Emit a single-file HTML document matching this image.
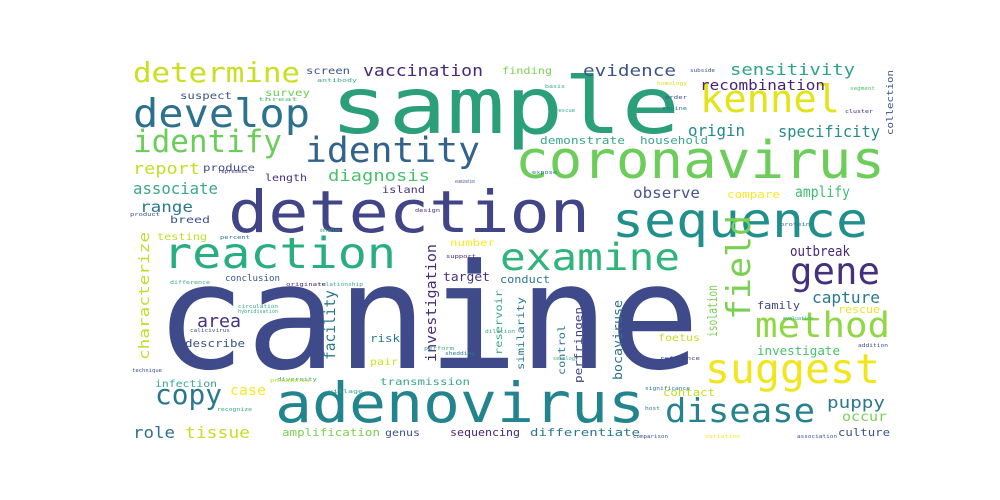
<!DOCTYPE html>
<html><head><meta charset="utf-8"><style>
html,body{margin:0;padding:0;background:#fff;width:1000px;height:500px;overflow:hidden}
svg text{font-family:"DejaVu Sans Mono","Liberation Mono",monospace}
</style></head><body>
<svg width="1000" height="500" viewBox="0 0 1000 500" id="wc"></svg>
<script>
// word, x-start, baseline, font-size, width, color, rotated(1)
const words=["canine","sample","detection","adenovirus","coronavirus","sequence","reaction","examine","develop","identity","identify","determine","kennel","gene","field","method","suggest","disease","copy","vaccination","evidence","sensitivity","recombination","specificity","origin","demonstrate","household","observe","amplify","compare","outbreak","capture","family","rescue","investigate","puppy","occur","culture","isolation","bocaviruse","perfringen","control","similarity","reservoir","contact","foetus","differentiate","sequencing","genus","amplification","role","tissue","case","infection","transmission","describe","area","pair","risk","facility","investigation","characterize","target","conclusion","diagnosis","associate","report","produce","length","island","range","breed","testing","number","suspect","screen","survey","finding","conduct","collection","segment","cluster","homology","subside","order","basis","rescue","equine","significance","reference","host","comparison","variation","association","serology","shedding","dilution","perform","hybridisation","circulation","calicivirus","difference","technique","recognize","diversity","pneumonia","relationship","originate","support","village","design","deletion","percent","represent","product","expose","examination","antibody","threat","protein","evaluation","addition"];
const layout=[
[155,368,146,545,"#3e4a89",0],[330,133,78,350,"#2a9f7a",0],[228,232,58,362,"#414487",0],[275,422,55,370,"#22848d",0],
[515,178,52,370,"#6ccd5a",0],[612,237,48,256,"#21908d",0],[163,268,43,233,"#29af7f",0],[500,270,37,180,"#2fb47c",0],
[133,127,39,177,"#2c728e",0],[305,162,35,175,"#33638d",0],[133,152,31,149,"#6ccd5a",0],[133,82,28,167,"#c8e020",0],
[700,112,38,140,"#e2e418",0],[790,284,37,90,"#46307e",0],[750,320,33,105,"#7ad151",1],[755,337,35,135,"#8fd744",0],
[705,383,41,175,"#f1e51d",0],[665,422,33,150,"#26828e",0],[155,404,28,67,"#2a788e",0],[363,76,16,120,"#482878",0],
[583,76,16,93,"#3b528b",0],[730,75,16,125,"#2ea28a",0],[700,90,14,125,"#482475",0],[778,137,16,102,"#2a8a8c",0],
[688,136,16,57,"#23898e",0],[540,144,11,85,"#3aa78a",0],[640,144,11,68,"#3aa78a",0],[633,198,15,67,"#46548d",0],
[795,197,15,55,"#3fbc73",0],[727,198,11,53,"#fde725",0],[790,256,14,60,"#482878",0],[812,303,16,68,"#2a788e",0],
[757,309,11,43,"#414487",0],[838,313,11,42,"#f3e51e",0],[757,355,12,83,"#4ac16d",0],[827,408,16,58,"#2a788e",0],
[842,421,13,45,"#7ad151",0],[838,436,11,52,"#3b528b",0],[717,337,13,52,"#7ad151",1],[622,380,12,80,"#2c728e",1],
[582,383,11,76,"#414487",1],[565,375,10,50,"#2a788e",1],[524,370,10,73,"#2a788e",1],[502,355,10,65,"#3aa78a",1],
[663,396,11,52,"#bddf26",0],[658,341,10,42,"#bddf26",0],[530,436,11,110,"#2a788e",0],[450,436,11,70,"#482878",0],
[385,436,10,35,"#3b528b",0],[282,436,11,98,"#7ad151",0],[133,438,16,42,"#2c728e",0],[185,438,16,65,"#c2df23",0],
[230,395,14,36,"#fde725",0],[155,387,10,62,"#3aa78a",0],[380,385,10,90,"#3aa78a",0],[185,347,11,60,"#3b528b",0],
[197,327,18,44,"#46337e",0],[370,365,10,28,"#d2e21b",0],[370,342,11,30,"#2a788e",0],[335,360,15,70,"#2a788e",1],
[436,362,14,118,"#472c7a",1],[149,360,14,128,"#bddf26",1],[443,281,12,47,"#46337e",0],[225,281,9,55,"#3b528b",0],
[328,181,16,102,"#4ac16d",0],[133,194,16,85,"#3aa78a",0],[133,174,16,67,"#c2df23",0],[203,171,10,52,"#3b528b",0],
[265,181,10,42,"#46337e",0],[382,193,10,43,"#46337e",0],[140,212,15,53,"#2a788e",0],[170,223,10,40,"#3b528b",0],
[157,240,10,50,"#bddf26",0],[450,246,10,45,"#fde725",0],[180,99,10,52,"#3b528b",0],[306,74,10,44,"#3b528b",0],
[265,96,10,45,"#6ccd5a",0],[502,74,10,50,"#7ad151",0],[500,283,11,50,"#2a788e",0],[893,135,9,65,"#3b528b",1],
[850,90,5,25,"#4ac16d",0],[845,113,5,28,"#482878",0],[657,85,5,30,"#d2e21b",0],[690,72,5,25,"#3b528b",0],
[665,99,5,22,"#3b528b",0],[545,88,5,20,"#3aa78a",0],[555,112,5,20,"#3aa78a",0],[662,110,5,25,"#2a788e",0],
[645,390,5,45,"#2a788e",0],[660,360,5,40,"#414487",0],[645,410,5,15,"#2a788e",0],[633,438,5,35,"#3b528b",0],
[705,438,5,35,"#fde725",0],[797,438,5,40,"#3b528b",0],[553,360,5,25,"#3aa78a",0],[445,355,5,30,"#2a788e",0],
[485,333,5,30,"#3aa78a",0],[424,350,5,30,"#3aa78a",0],[238,313,5,40,"#3aa78a",0],[238,308,5,40,"#3aa78a",0],
[190,332,5,40,"#3b528b",0],[170,284,5,40,"#3aa78a",0],[132,372,5,30,"#3b528b",0],[217,411,5,35,"#3aa78a",0],
[277,381,5,40,"#3aa78a",0],[270,382,5,40,"#c2df23",0],[318,286,5,45,"#3aa78a",0],[286,286,5,40,"#482878",0],
[446,258,5,30,"#482878",0],[328,393,5,35,"#3aa78a",0],[415,212,5,25,"#482878",0],[320,232,5,20,"#3aa78a",0],
[220,239,5,30,"#2a788e",0],[218,173,5,30,"#482878",0],[130,216,5,30,"#3b528b",0],[532,174,5,25,"#2a788e",0],
[455,183,5,20,"#3b528b",0],[317,82,5,40,"#3aa78a",0],[258,101,5,40,"#4ac16d",0],[780,226,5,30,"#2a788e",0],
[783,320,5,30,"#3aa78a",0],[858,347,5,30,"#3b528b",0]];
const svg=document.getElementById('wc');
const NS="http://www.w3.org/2000/svg";
for(let i=0;i<words.length&&i<layout.length;i++){
  const [x,y,fs,w,c,r]=layout[i];
  const t=document.createElementNS(NS,'text');
  
  
  t.setAttribute('font-size',fs);
  t.setAttribute('fill',c);
  t.setAttribute('textLength',w);
  t.setAttribute('lengthAdjust','spacingAndGlyphs');
  if(r){t.setAttribute('transform','translate('+x+','+y+') rotate(-90)');t.setAttribute('x',0);t.setAttribute('y',0);}
  else{t.setAttribute('x',x);t.setAttribute('y',y);}
  t.textContent=words[i];
  svg.appendChild(t);
}
</script>
</body></html>
